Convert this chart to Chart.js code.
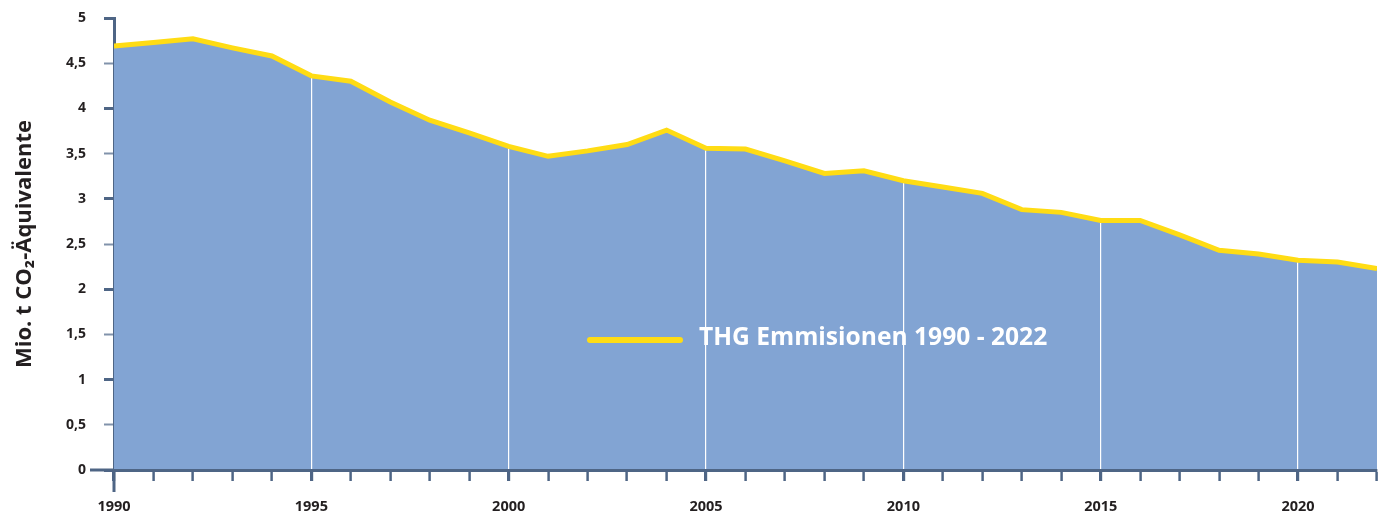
<!DOCTYPE html>
<html><head><meta charset="utf-8">
<script src="https://cdn.jsdelivr.net/npm/chart.js@4/dist/chart.umd.min.js"></script>
<style>html,body{margin:0;padding:0;background:#fff}#wrap{width:1384px;height:516px;position:relative}canvas{display:block}</style>
</head><body><div id="wrap"><canvas id="c" width="1384" height="516" style="width:1384px;height:516px"></canvas></div>
<script>
const years = [1990,1991,1992,1993,1994,1995,1996,1997,1998,1999,2000,2001,2002,2003,2004,2005,2006,2007,2008,2009,2010,2011,2012,2013,2014,2015,2016,2017,2018,2019,2020,2021,2022];
const emissions = [4.69,4.73,4.77,4.67,4.58,4.36,4.30,4.07,3.87,3.73,3.58,3.47,3.53,3.60,3.76,3.56,3.55,3.42,3.28,3.31,3.20,3.13,3.06,2.88,2.85,2.76,2.76,2.60,2.43,2.39,2.32,2.30,2.23];
const seriesLabel = 'THG Emmisionen 1990 - 2022';
const yTitle = 'Mio. t CO\u2082-\u00C4quivalente';
const yMin = 0, yMax = 5, yStep = 0.5;
const labelYears = [1990,1995,2000,2005,2010,2015,2020];

const AXIS = '#4E6585', FILL = '#82A4D3', LINE = '#FFDC14', TEXT = '#231F20';
const points = years.map((y, i) => ({x: y, y: emissions[i]}));

const overlay = {
  id: 'overlay',
  afterDatasetDraw(chart, args) {
    if (args.index === 1) {
      const xs = chart.scales.x;
      if (typeof xs.drawGrid === 'function') {
        xs._gridLineItems = null;
        xs.drawGrid(chart.chartArea);
        if (typeof xs.drawBorder === 'function') xs.drawBorder();
      }
    }
  },
  afterDraw(chart) {
    const ctx = chart.ctx, a = chart.chartArea;
    const xs = chart.scales.x, ys = chart.scales.y;
    const x0 = xs.getPixelForValue(years[0]);
    const y0 = ys.getPixelForValue(0);
    ctx.save();
    ctx.strokeStyle = AXIS; ctx.lineWidth = 3;
    ctx.beginPath(); ctx.moveTo(a.left - 24, y0); ctx.lineTo(a.left, y0); ctx.stroke();
    ctx.beginPath(); ctx.moveTo(x0, a.bottom); ctx.lineTo(x0, a.bottom + 22); ctx.stroke();
    // legend
    const ds = chart.data.datasets[0];
    const lx = a.left + (587 - 114) / 1263 * a.width;
    const ly = a.top + (340 - 18) / 452 * a.height;
    ctx.strokeStyle = ds.borderColor; ctx.lineWidth = 6; ctx.lineCap = 'round';
    ctx.beginPath(); ctx.moveTo(lx + 3, ly); ctx.lineTo(lx + 93, ly); ctx.stroke();
    ctx.fillStyle = '#ffffff';
    ctx.font = 'bold 24.6px "Open Sans"';
    ctx.textBaseline = 'middle'; ctx.textAlign = 'left';
    ctx.fillText(ds.label, lx + 112, ly - 2);
    ctx.restore();
  }
};

function zeroPad(s) { s.paddingTop = 0; s.paddingBottom = 0; s.paddingLeft = 0; s.paddingRight = 0; }

new Chart(document.getElementById('c'), {
  type: 'line',
  data: {
    datasets: [
      {label: seriesLabel, data: points, borderColor: LINE, borderWidth: 5, fill: false, pointRadius: 0, tension: 0, borderJoinStyle: 'miter'},
      {label: 'fill', data: points, borderWidth: 0, borderColor: 'rgba(0,0,0,0)', backgroundColor: FILL, fill: 'origin', pointRadius: 0, tension: 0}
    ]
  },
  options: {
    responsive: false,
    maintainAspectRatio: false,
    animation: false,
    layout: {padding: {top: 18, right: 7, left: 0, bottom: 0}},
    plugins: {legend: {display: false}, tooltip: {enabled: false}},
    scales: {
      x: {
        type: 'linear', min: years[0], max: years[years.length - 1],
        afterFit(s) { s.height = 46; zeroPad(s); },
        border: {color: AXIS, width: 3},
        grid: {
          drawOnChartArea: true, tickLength: 11,
          color: c => (c.tick && labelYears.includes(c.tick.value) && c.tick.value !== years[0]) ? '#ffffff' : 'rgba(0,0,0,0)',
          lineWidth: 1.2,
          tickColor: AXIS,
          tickWidth: c => (c.tick && c.tick.value % 5 === 0) ? 3 : 2
        },
        ticks: {
          stepSize: 1, autoSkip: false, maxRotation: 0, padding: 17,
          color: TEXT, font: {family: '"Open Sans"', weight: 'bold', size: 14.5},
          callback: v => labelYears.includes(v) ? String(v) : ''
        }
      },
      y: {
        min: yMin, max: yMax,
        afterFit(s) { s.width = 114; zeroPad(s); },
        border: {color: AXIS, width: 3},
        grid: {
          drawOnChartArea: false, tickLength: 10,
          tickColor: c => (c.tick && Number.isInteger(c.tick.value)) ? AXIS : '#8192AA',
          tickWidth: c => (c.tick && Number.isInteger(c.tick.value)) ? 3 : 2
        },
        ticks: {
          stepSize: yStep, autoSkip: false, padding: 18, color: TEXT,
          font: {family: '"Open Sans"', weight: 'bold', size: 14},
          callback: v => String(v).replace('.', ',')
        },
        title: {display: true, text: yTitle, color: TEXT, font: {family: '"Open Sans"', weight: 'bold', size: 22}, padding: {top: 12, bottom: 0}}
      }
    }
  },
  plugins: [overlay]
});
</script></body></html>
